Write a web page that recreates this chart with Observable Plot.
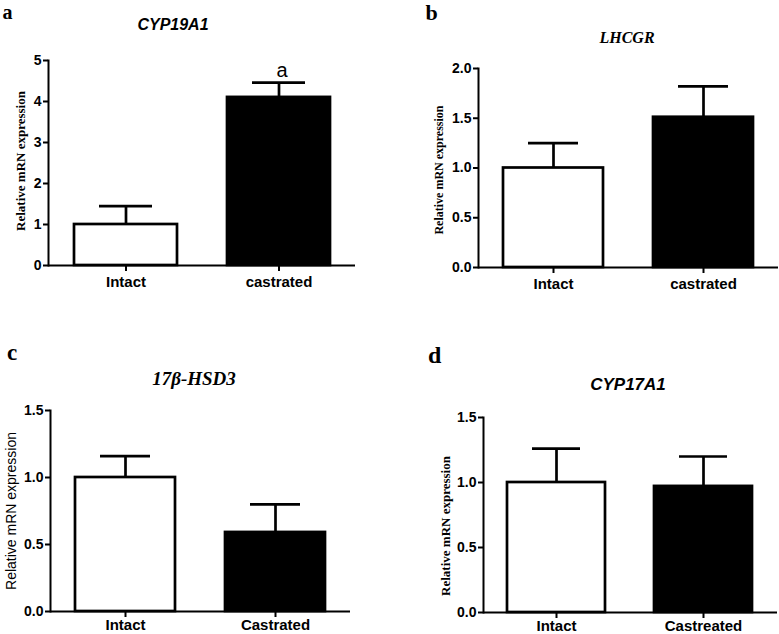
<!DOCTYPE html>
<html>
<head>
<meta charset="utf-8">
<script src="https://cdn.jsdelivr.net/npm/d3@7"></script>
<script src="https://cdn.jsdelivr.net/npm/@observablehq/plot@0.6"></script>
<style>
  html, body { margin: 0; padding: 0; background: #fff; }
  #root { position: relative; width: 779px; height: 634px; overflow: hidden; background: #fff; }
  .panel { position: absolute; }
  .lbl { position: absolute; line-height: 1; white-space: nowrap; color: #000; }
</style>
</head>
<body>
<div id="root"></div>
<script>
// ---- data ----
const panelLetters = ["a", "b", "c", "d"];
const geneTitles = ["CYP19A1", "LHCGR", "17β-HSD3", "CYP17A1"];
const yAxisTitle = "Relative mRN expression";

const groupsA = ["Intact", "castrated"];
const meansA = [1.0, 4.1];
const semA = [0.45, 0.36];
const sigA = ["", "a"];
const ticksA = [0, 1, 2, 3, 4, 5];

const groupsB = ["Intact", "castrated"];
const meansB = [1.0, 1.51];
const semB = [0.25, 0.31];
const ticksB = [0, 0.5, 1.0, 1.5, 2.0];

const groupsC = ["Intact", "Castrated"];
const meansC = [1.0, 0.59];
const semC = [0.16, 0.21];
const ticksC = [0, 0.5, 1.0, 1.5];

const groupsD = ["Intact", "Castreated"];
const meansD = [1.0, 0.97];
const semD = [0.26, 0.23];
const ticksD = [0, 0.5, 1.0, 1.5];

// ---- layout ----
const root = document.getElementById("root");
const SANS = "'Liberation Sans', Arial, sans-serif";
const SERIF = "'Liberation Serif', 'Times New Roman', serif";

function panel(cfg) {
  const data = cfg.groups.map((g, i) => ({
    group: g, mean: cfg.means[i], upper: cfg.means[i] + cfg.sems[i], sig: cfg.sig ? cfg.sig[i] : ""
  }));
  const marks = [
    Plot.ruleX(data, {x: "group", y1: "mean", y2: "upper", stroke: "black", strokeWidth: 2.7}),
    Plot.tickY(data, {x: "group", y: "upper", stroke: "black", strokeWidth: 2.7, insetLeft: 25, insetRight: 25}),
    Plot.barY(data, {x: "group", y: "mean", fill: "group", stroke: "black", strokeWidth: 2.7}),
    Plot.ruleY([0], {stroke: "black", strokeWidth: 2}),
    Plot.frame({anchor: "left", stroke: "black", strokeWidth: 2}),
    Plot.axisY({ticks: cfg.ticks, tickSize: 5, tickPadding: 2, strokeWidth: 2,
      tickFormat: cfg.fmt, fontSize: 14, fontWeight: "bold", label: null}),
    Plot.axisX({tickSize: 6, tickPadding: cfg.xPad, strokeWidth: 2, fontSize: 15, fontWeight: "bold", label: null}),
    Plot.text([yAxisTitle], {text: d => d, frameAnchor: "left", rotate: -90,
      textAnchor: "middle", lineAnchor: "middle", dx: cfg.ylab.dx, dy: cfg.ylab.dy,
      fontFamily: cfg.ylab.font, fontSize: cfg.ylab.size, fontWeight: cfg.ylab.weight, fill: "black"})
  ];
  if (cfg.sig) {
    marks.push(Plot.text(data, {x: "group", y: "upper", text: "sig", lineAnchor: "bottom",
      dx: 3, dy: -6, fontSize: 20, fontWeight: "normal", fontFamily: SANS, fill: "black"}));
  }
  const svg = Plot.plot({
    width: cfg.width, height: cfg.height,
    marginLeft: cfg.m[0], marginRight: cfg.m[1], marginTop: cfg.m[2], marginBottom: cfg.m[3],
    x: {domain: cfg.groups, paddingInner: 0.33, paddingOuter: 0.165, label: null},
    y: {domain: [0, cfg.yMax], label: null},
    color: {domain: cfg.groups, range: ["white", "black"]},
    style: {fontFamily: SANS, color: "black", background: "transparent", overflow: "visible"},
    marks
  });
  const wrap = document.createElement("div");
  wrap.className = "panel";
  wrap.style.left = cfg.left + "px";
  wrap.style.top = cfg.top + "px";
  wrap.appendChild(svg);
  root.appendChild(wrap);
}

function label(text, opts) {
  const d = document.createElement("div");
  d.className = "lbl";
  d.textContent = text;
  d.style.fontFamily = opts.font;
  d.style.fontSize = opts.size + "px";
  d.style.fontWeight = opts.weight || "bold";
  d.style.fontStyle = opts.italic ? "italic" : "normal";
  const asc = opts.font === SERIF ? 0.8375 : 0.8465;
  d.style.top = (opts.baseline - asc * opts.size) + "px";
  if (opts.center != null) {
    d.style.left = opts.center + "px";
    d.style.transform = "translateX(-50%)";
  } else {
    d.style.left = opts.left + "px";
  }
  root.appendChild(d);
}

const f0 = d3.format("d");
const f1 = d3.format(".1f");

panel({groups: groupsA, means: meansA, sems: semA, sig: sigA, ticks: ticksA, yMax: 5, fmt: f0,
  left: 0, top: 0, width: 390, height: 300, m: [48, 35, 60, 35], xPad: 5,
  ylab: {dx: -28, dy: -2, font: SERIF, size: 13, weight: "bold"}});
panel({groups: groupsB, means: meansB, sems: semB, ticks: ticksB, yMax: 2, fmt: f1,
  left: 390, top: 0, width: 389, height: 300, m: [88, 1, 68, 33], xPad: 5,
  ylab: {dx: -39, dy: 2, font: SERIF, size: 12, weight: "bold"}});
panel({groups: groupsC, means: meansC, sems: semC, ticks: ticksC, yMax: 1.5, fmt: f1,
  left: 0, top: 300, width: 390, height: 334, m: [50, 40, 110, 23], xPad: 2,
  ylab: {dx: -39, dy: 0, font: SANS, size: 14, weight: "normal"}});
panel({groups: groupsD, means: meansD, sems: semD, ticks: ticksD, yMax: 1.5, fmt: f1,
  left: 390, top: 300, width: 389, height: 334, m: [93, 2, 117, 22], xPad: 2,
  ylab: {dx: -38, dy: 11, font: SERIF, size: 13, weight: "bold"}});

// panel letters
label(panelLetters[0], {font: SERIF, size: 20, left: 2.5, baseline: 18.5});
label(panelLetters[1], {font: SERIF, size: 22, left: 425.5, baseline: 20});
label(panelLetters[2], {font: SERIF, size: 23, left: 7, baseline: 360.5});
label(panelLetters[3], {font: SERIF, size: 24, left: 428, baseline: 363});
// gene titles
label(geneTitles[0], {font: SANS, size: 16, italic: true, center: 173, baseline: 31});
label(geneTitles[1], {font: SERIF, size: 16, italic: true, center: 627, baseline: 43});
label(geneTitles[2], {font: SERIF, size: 19, italic: true, center: 194, baseline: 385});
label(geneTitles[3], {font: SANS, size: 17, italic: true, center: 628, baseline: 390});
</script>
</body>
</html>
